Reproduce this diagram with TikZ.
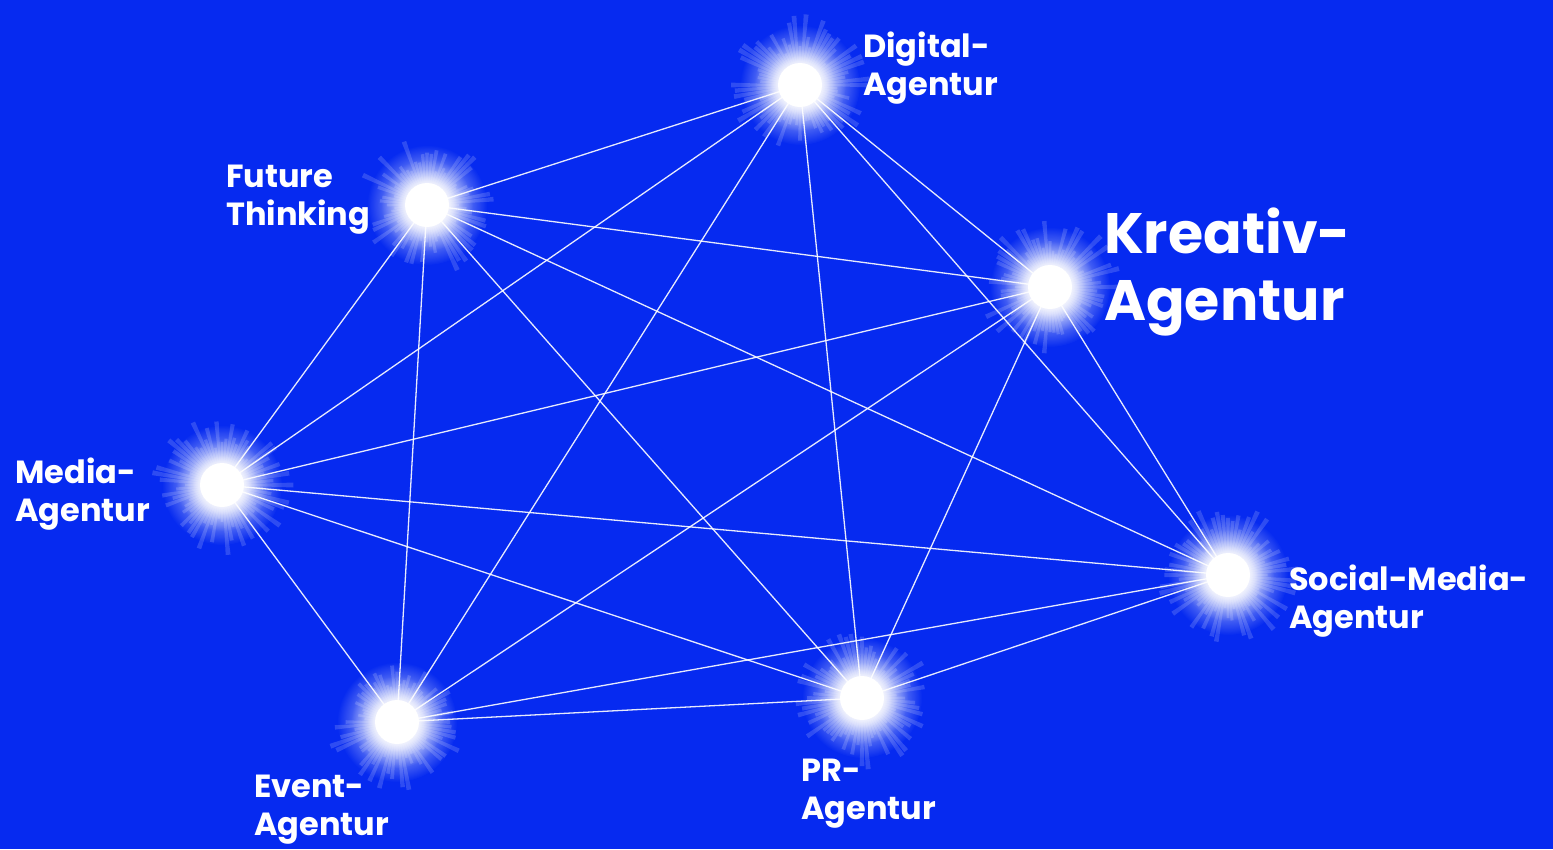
\documentclass[tikz,border=0pt]{standalone}
\usepackage{fontspec}
\setmainfont{Poppins}
\usetikzlibrary{fadings}

\definecolor{agblue}{RGB}{6,42,240}
\tikzfading[name=glowfade, inner color=transparent!0, outer color=transparent!100]

\tikzset{
  star/.style={circle, inner sep=0pt, minimum size=30pt},
  link/.style={white, line width=1.3pt, opacity=0.9},
  lbl/.style={white, font=\bfseries\fontsize{32}{38}\selectfont, align=left, inner sep=0pt, anchor=west},
}

\begin{document}
\begin{tikzpicture}[x=1pt, y=-1pt] % one unit = one pixel of the reference
        % Background
        \fill[agblue] (0,0) rectangle (1553,849);

        % Agencies
        \node[star] (dig) at (800,85) {};
        \node[star] (fut) at (427,205) {};
        \node[star] (kre) at (1050,287) {};
        \node[star] (med) at (222,485) {};
        \node[star] (soc) at (1228,575) {};
        \node[star] (evt) at (397,722) {};
        \node[star] (pr)  at (862,698) {};

        % Every agency linked with every other one
        \foreach \a/\b in {dig/fut,dig/kre,dig/med,dig/soc,dig/evt,dig/pr,
                           fut/kre,fut/med,fut/soc,fut/evt,fut/pr,
                           kre/med,kre/soc,kre/evt,kre/pr,
                           med/soc,med/evt,med/pr,
                           soc/evt,soc/pr,
                           evt/pr} {
            \draw[link] (\a.center) -- (\b.center);
        }

        % Glow with rays
        \pgfmathsetseed{7}
        \foreach \n in {dig,fut,kre,med,soc,evt,pr} {
            \foreach \ang in {0,5,...,355} {
                \pgfmathsetmacro\len{32+40*rnd}
                \fill[white, opacity=0.16] (\n.center) -- +(\ang-2:\len) -- +(\ang+2:\len) -- cycle;
            }
            \fill[white, path fading=glowfade] (\n.center) circle (60);
            \fill[white, path fading=glowfade] (\n.center) circle (46);
            \fill[white, path fading=glowfade] (\n.center) circle (36);
            \fill[white, path fading=glowfade] (\n.center) circle (30);
            \fill[white] (\n.center) circle (22);
        }

        % Labels
        \node[lbl] (digl) at (863,68) {Digital-\\Agentur};
        \node[lbl] (futl) at (226,200) {Future\\Thinking};
        \node[lbl, font=\bfseries\fontsize{57}{67}\selectfont] (krel) at (1104,272) {Kreativ-\\Agentur};
        \node[lbl] (medl) at (15,494) {Media-\\Agentur};
        \node[lbl] (socl) at (1289,601) {Social-Media-\\Agentur};
        \node[lbl] (evtl) at (254,810) {Event-\\Agentur};
        \node[lbl] (prl)  at (801,794) {PR-\\Agentur};
\end{tikzpicture}
\end{document}
